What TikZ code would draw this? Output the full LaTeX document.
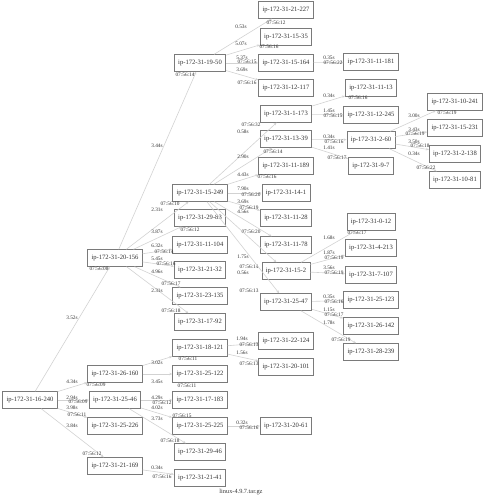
\documentclass[tikz,border=0pt]{standalone}
\usepackage{fontspec}
\setmainfont{Liberation Serif}
\usetikzlibrary{arrows.meta}
\definecolor{boxgray}{HTML}{7A7A7A}
\definecolor{edgegray}{HTML}{D2D2D2}
\definecolor{txt}{HTML}{333333}
\tikzset{
  host/.style={draw=boxgray, line width=0.9pt, inner xsep=3.8pt, inner ysep=0pt, minimum height=16.5pt, font=\fontsize{6.6}{7}\selectfont, text=txt},
  edge/.style={draw=edgegray, line width=0.6pt, -{Stealth[length=3pt,width=2.4pt]}},
  lab/.style={font=\fontsize{5.3}{6}\selectfont, text=txt, inner sep=0pt}
}
\newcommand\gedge[6]{\draw[edge] (#1) -- (#2); \node[lab] (l-#2) at (#4) {#3}; \node[lab] (h-#2) at (#6) {#5};}
\begin{document}
\begin{tikzpicture}[x=1pt,y=-1pt]
\useasboundingbox (0,0) rectangle (486,500);
% column 0
\node[host] (n16240) at (30,400) {ip-172-31-16-240};
% column 1
\node[host] (n20156) at (115,258) {ip-172-31-20-156};
\node[host] (n26160) at (115,374) {ip-172-31-26-160};
\node[host] (n2546) at (115,400) {ip-172-31-25-46};
\node[host] (n25226) at (115,426) {ip-172-31-25-226};
\node[host] (n21169) at (115,466) {ip-172-31-21-169};
% column 2
\node[host] (n1950) at (200,63) {ip-172-31-19-50};
\node[host] (n15249) at (200,193) {ip-172-31-15-249};
\node[host] (n2983) at (200,218) {ip-172-31-29-83};
\node[host] (n11104) at (200,245) {ip-172-31-11-104};
\node[host] (n2132) at (200,270) {ip-172-31-21-32};
\node[host] (n23135) at (200,296) {ip-172-31-23-135};
\node[host] (n1792) at (200,322) {ip-172-31-17-92};
\node[host] (n18121) at (200,348) {ip-172-31-18-121};
\node[host] (n25122) at (200,374) {ip-172-31-25-122};
\node[host] (n17183) at (200,400) {ip-172-31-17-183};
\node[host] (n25225) at (200,426) {ip-172-31-25-225};
\node[host] (n2946) at (200,452) {ip-172-31-29-46};
\node[host] (n2141) at (200,478) {ip-172-31-21-41};
% column 3
\node[host] (n21227) at (286,10) {ip-172-31-21-227};
\node[host] (n1535) at (286,37) {ip-172-31-15-35};
\node[host] (n15164) at (286,63) {ip-172-31-15-164};
\node[host] (n12117) at (286,88) {ip-172-31-12-117};
\node[host] (n1173) at (286,114) {ip-172-31-1-173};
\node[host] (n1339) at (286,139) {ip-172-31-13-39};
\node[host] (n11189) at (286,166) {ip-172-31-11-189};
\node[host] (n141) at (286,193) {ip-172-31-14-1};
\node[host] (n1128) at (286,218) {ip-172-31-11-28};
\node[host] (n1178) at (286,245) {ip-172-31-11-78};
\node[host] (n152) at (286,271) {ip-172-31-15-2};
\node[host] (n2547) at (286,302) {ip-172-31-25-47};
\node[host] (n22124) at (286,341) {ip-172-31-22-124};
\node[host] (n20101) at (286,367) {ip-172-31-20-101};
\node[host] (n2061) at (286,426) {ip-172-31-20-61};
% column 4
\node[host] (n11181) at (371,62) {ip-172-31-11-181};
\node[host] (n1113) at (371,88) {ip-172-31-11-13};
\node[host] (n12245) at (371,115) {ip-172-31-12-245};
\node[host] (n260) at (371,140) {ip-172-31-2-60};
\node[host] (n97) at (371,166) {ip-172-31-9-7};
\node[host] (n012) at (371,222) {ip-172-31-0-12};
\node[host] (n4213) at (371,248) {ip-172-31-4-213};
\node[host] (n7107) at (371,275) {ip-172-31-7-107};
\node[host] (n25123) at (371,300) {ip-172-31-25-123};
\node[host] (n26142) at (371,326) {ip-172-31-26-142};
\node[host] (n28239) at (371,352) {ip-172-31-28-239};
% column 5
\node[host] (n10241) at (455,102) {ip-172-31-10-241};
\node[host] (n15231) at (455,128) {ip-172-31-15-231};
\node[host] (n2138) at (455,154) {ip-172-31-2-138};
\node[host] (n1081) at (455,180) {ip-172-31-10-81};
% edges
\gedge{n16240}{n20156}{3.52s}{72,318}{07:56:08}{99,269}
\gedge{n16240}{n26160}{4.34s}{72,382}{07:56:09}{96,385}
\gedge{n16240}{n2546}{2.94s}{72,398}{07:56:09}{78,402}
\gedge{n16240}{n25226}{3.98s}{72,408}{07:56:11}{77,415}
\gedge{n16240}{n21169}{3.84s}{72,426}{07:56:12}{92,454}
\gedge{n20156}{n1950}{3.44s}{157,146}{07:56:14}{185,75}
\gedge{n20156}{n15249}{2.31s}{157,210}{07:56:10}{170,204}
\gedge{n20156}{n2983}{3.87s}{157,232}{07:56:12}{190,230}
\gedge{n20156}{n11104}{6.32s}{157,246}{07:56:14}{164,252}
\gedge{n20156}{n2132}{5.45s}{157,259}{07:56:16}{166,264}
\gedge{n20156}{n23135}{4.96s}{157,272}{07:56:17}{171,284}
\gedge{n20156}{n1792}{2.31s}{157,291}{07:56:18}{171,311}
\gedge{n26160}{n18121}{3.02s}{157,363}{07:56:11}{188,359}
\gedge{n26160}{n25122}{3.45s}{157,382}{07:56:11}{187,386}
\gedge{n2546}{n17183}{4.29s}{157,398}{07:56:12}{162,403}
\gedge{n2546}{n25225}{4.02s}{157,408}{07:56:15}{182,416}
\gedge{n2546}{n2946}{3.73s}{157,419}{07:56:18}{170,441}
\gedge{n21169}{n2141}{0.34s}{157,468}{07:56:16}{162,477}
\gedge{n1950}{n21227}{0.53s}{241,27}{07:56:12}{276,23}
\gedge{n1950}{n1535}{5.07s}{241,44}{07:56:16}{269,47}
\gedge{n1950}{n15164}{5.37s}{242,58}{07:56:15}{247,62}
\gedge{n1950}{n12117}{3.69s}{242,70}{07:56:16}{247,83}
\gedge{n15249}{n1173}{0.58s}{243,132}{07:56:32}{251,125}
\gedge{n15249}{n1339}{2.90s}{243,157}{07:56:14}{273,152}
\gedge{n15249}{n11189}{4.43s}{243,175}{07:56:16}{267,177}
\gedge{n15249}{n141}{7.90s}{243,189}{07:56:20}{251,195}
\gedge{n15249}{n1128}{3.69s}{243,202}{07:56:19}{249,208}
\gedge{n15249}{n1178}{4.56s}{243,212}{07:56:20}{251,232}
\gedge{n15249}{n152}{1.75s}{243,257}{07:56:14}{249,267}
\gedge{n15249}{n2547}{0.56s}{243,273}{07:56:13}{249,291}
\gedge{n18121}{n22124}{1.94s}{242,339}{07:56:13}{249,345}
\gedge{n18121}{n20101}{1.56s}{242,353}{07:56:13}{249,364}
\gedge{n25225}{n2061}{0.32s}{242,423}{07:56:16}{249,428}
\gedge{n15164}{n11181}{0.35s}{329,58}{07:56:22}{333,63}
\gedge{n1173}{n1113}{0.34s}{329,96}{07:56:16}{358,98}
\gedge{n1173}{n12245}{1.45s}{329,111}{07:56:15}{333,116}
\gedge{n1339}{n260}{0.34s}{329,137}{07:56:16}{334,142}
\gedge{n1339}{n97}{1.41s}{329,148}{07:56:17}{337,158}
\gedge{n152}{n012}{1.68s}{329,238}{07:56:17}{357,233}
\gedge{n152}{n4213}{1.87s}{329,253}{07:56:19}{334,258}
\gedge{n152}{n7107}{3.56s}{329,268}{07:56:19}{334,273}
\gedge{n2547}{n25123}{0.35s}{329,297}{07:56:16}{334,302}
\gedge{n2547}{n26142}{1.15s}{329,310}{07:56:17}{334,315}
\gedge{n2547}{n28239}{1.78s}{329,323}{07:56:19}{341,340}
\gedge{n260}{n10241}{3.00s}{414,116}{07:56:19}{447,113}
\gedge{n260}{n15231}{3.43s}{414,130}{07:56:19}{415,134}
\gedge{n260}{n2138}{3.50s}{414,142}{07:56:18}{420,146}
\gedge{n260}{n1081}{0.34s}{414,154}{07:56:22}{426,168}
% caption
\node[font=\fontsize{6.3}{7}\selectfont, text=txt, inner sep=0pt] (caption) at (241,492) {linux-4.9.7.tar.gz};
\end{tikzpicture}
\end{document}
